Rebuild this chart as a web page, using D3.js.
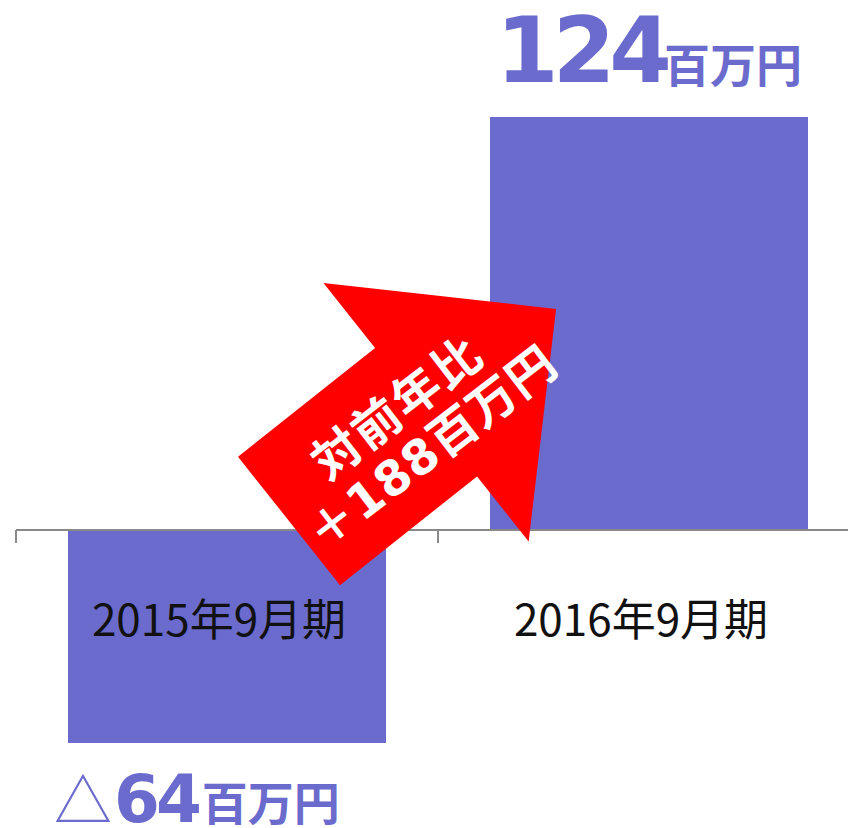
<!DOCTYPE html>
<html><head><meta charset="utf-8">
<script src="https://cdn.jsdelivr.net/npm/d3@7"></script>
<style>html,body{margin:0;padding:0;background:#fff;overflow:hidden;}</style>
</head><body><svg id="c" width="848" height="828"></svg>
<script>
const categories = ["2015年9月期", "2016年9月期"];
const values = [-64, 124];
const unitText = "百万円";
const changeTitle = "対前年比";
const negMark = "△";
const posMark = "＋";

const svg = d3.select("#c");
const barColor = "#6b6bcd";
const cjk = "'Noto Sans CJK JP', 'Noto Sans CJK SC', sans-serif";
const latinBold = "'DejaVu Sans', 'Noto Sans CJK JP', sans-serif";

const x = d3.scaleBand().domain(categories).range([16, 860])
  .paddingInner(0.2464).paddingOuter(0.1232);
const y = d3.scaleLinear().domain(d3.extent(values)).range([743, 117]);
const y0 = Math.round(y(0));

// bars
svg.selectAll("rect.bar").data(values).join("rect").attr("class", "bar")
  .attr("x", (d, i) => x(categories[i])).attr("width", x.bandwidth())
  .attr("y", d => y(Math.max(0, d))).attr("height", d => Math.abs(y(d) - y(0)))
  .attr("fill", barColor);

// axis line + ticks between categories
const ax = svg.append("g").attr("transform", `translate(0,${y0})`);
ax.append("line").attr("x1", x.range()[0]).attr("x2", x.range()[1])
  .attr("stroke", "#898989").attr("stroke-width", 2);
const bounds = d3.range(categories.length + 1).map(i => x.range()[0] + i * x.step());
ax.selectAll("line.tk").data(bounds).join("line").attr("class", "tk")
  .attr("x1", d => d).attr("x2", d => d).attr("y1", 0).attr("y2", 13)
  .attr("stroke", "#898989").attr("stroke-width", 2);

// category labels via axis
const cat = svg.append("g").attr("transform", `translate(-8,${y0})`)
  .call(d3.axisBottom(x).tickSize(0));
cat.select(".domain").remove();
cat.selectAll("text").attr("y", 106).attr("dy", 0)
  .attr("font-family", cjk).attr("font-size", 44).attr("fill", "#111");

// arrow (annotation)
const arrowLen = 341, headStart = 175, shaftHalf = 82, headHalf = 165;
const arrowPts = [[0, -shaftHalf], [headStart, -shaftHalf], [headStart, -headHalf], [arrowLen, 0],
  [headStart, headHalf], [headStart, shaftHalf], [0, shaftHalf]];
const arrowG = svg.append("g").attr("transform", `translate(289,521) rotate(-38.45)`);
arrowG.append("path").attr("d", d3.line()(arrowPts) + "Z").attr("fill", "#ff0000");
const diff = values[1] - values[0];
const tg = svg.append("g").attr("transform", `translate(289,521) rotate(-37.5)`);
tg.append("text").attr("x", 155).attr("y", -28).attr("dominant-baseline", "central")
  .attr("text-anchor", "middle").attr("font-family", cjk).attr("font-weight", "bold")
  .attr("font-size", 48).attr("letter-spacing", 2).attr("fill", "#fff").text(changeTitle);
tg.append("text").attr("x", 158).attr("y", 29).attr("dominant-baseline", "central")
  .attr("text-anchor", "middle").attr("font-family", latinBold).attr("font-weight", "bold")
  .attr("font-size", 48).attr("letter-spacing", 1).attr("fill", "#fff").text(posMark + diff + unitText);

// value labels
values.forEach((v, i) => {
  const cx = x(categories[i]) + x.bandwidth() / 2;
  if (v >= 0) {
    const t = svg.append("text").attr("x", cx).attr("y", y(v) - 35)
      .attr("text-anchor", "middle").attr("fill", barColor).attr("font-weight", "bold");
    t.append("tspan").attr("font-family", latinBold).attr("font-size", 90)
      .attr("letter-spacing", -6).text(v);
    t.append("tspan").attr("dx", -2).attr("font-family", cjk).attr("font-size", 46).text(unitText);
  } else {
    const t = svg.append("text").attr("x", x(categories[i]) - 14).attr("y", y(v) + 79)
      .attr("text-anchor", "start").attr("fill", barColor);
    t.append("tspan").attr("font-family", cjk).attr("font-size", 58).text(negMark);
    t.append("tspan").attr("dx", 2).attr("font-family", latinBold).attr("font-weight", "bold")
      .attr("font-size", 66).attr("letter-spacing", -4).text(Math.abs(v));
    t.append("tspan").attr("dx", 4).attr("dy", -2).attr("font-family", cjk).attr("font-weight", "bold")
      .attr("font-size", 46).text(unitText);
  }
});
</script></body></html>
